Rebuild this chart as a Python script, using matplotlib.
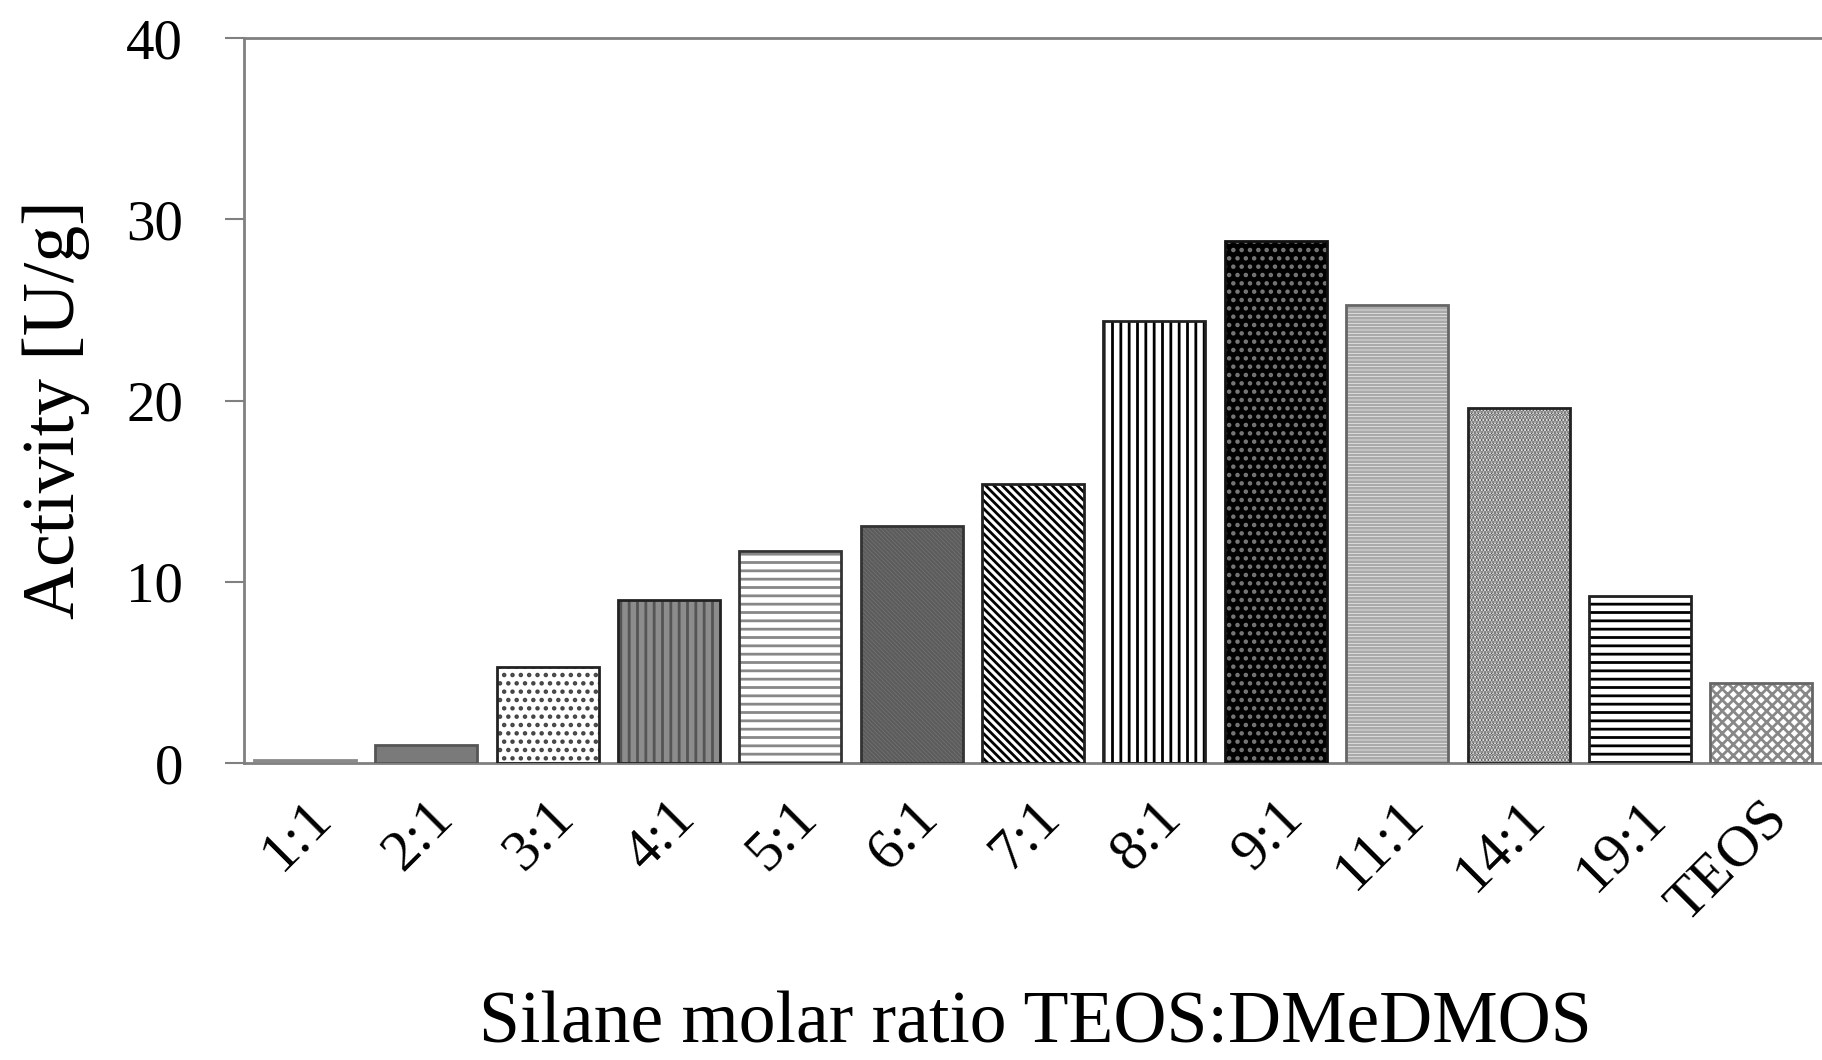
import matplotlib.pyplot as plt
import numpy as np

ratios = ['1:1', '2:1', '3:1', '4:1', '5:1', '6:1', '7:1', '8:1', '9:1',
          '11:1', '14:1', '19:1', 'TEOS']
activity = [0.2, 1.0, 5.3, 9.0, 11.7, 13.1, 15.4, 24.4, 28.8, 25.3, 19.6, 9.2, 4.4]

# fill colour, hatch, hatch colour for every bar
faces = ['#8a8a8a', '#7a7a7a', 'white', '#8c8c8c', 'white', '#b8b8b8', 'white',
         'white', 'black', 'white', 'white', 'white', 'white']
hatches = ['', '', '..', '||', '--', '\\\\\\\\\\\\\\\\', '\\\\\\\\', '||', '..',
           '-----', '.....', '--', 'xxx']
hcolors = ['#8a8a8a', '#7a7a7a', '#444444', '#555555', '#888888', '#5c5c5c', 'black',
           'black', '#777777', '#aaaaaa', '#555555', 'black', '#888888']
outlines = ['#8a8a8a', '#555555', '#222222', '#222222', '#333333', '#333333', '#222222',
            '#222222', '#111111', '#666666', '#222222', '#222222', '#666666']

plt.rcParams['font.family'] = ['Liberation Serif', 'DejaVu Serif']
plt.rcParams['hatch.linewidth'] = 2.0

fig = plt.figure(figsize=(18.22, 10.6), dpi=100)
ax = fig.add_axes([0.134, 0.280, 0.866, 0.684])

x = np.arange(len(ratios))
for i in range(len(ratios)):
    ax.bar(x[i], activity[i], width=0.84, color=faces[i], hatch=hatches[i],
           edgecolor=hcolors[i], linewidth=0, zorder=2)
    ax.bar(x[i], activity[i], width=0.84, fill=False, edgecolor=outlines[i],
           linewidth=2, zorder=3)

ax.set_xlim(-0.5, len(ratios) - 0.5)
ax.set_ylim(0, 40)
ax.set_yticks([0, 10, 20, 30, 40])
ax.tick_params(axis='y', labelsize=41, length=14, width=1.5, color='#808080', pad=30)
ax.set_xticks(x)
ax.set_xticklabels(ratios, rotation=45, ha='right', rotation_mode='anchor')
ax.tick_params(axis='x', labelsize=42, length=0, pad=20)

for s in ['left', 'bottom', 'top']:
    ax.spines[s].set_color('#808080')
    ax.spines[s].set_linewidth(2)
ax.spines['right'].set_visible(False)

fig.text(0.031, 0.614, 'Activity [U/g]', fontsize=53, rotation=90,
         ha='center', va='center')
fig.text(0.568, 0.033, 'Silane molar ratio TEOS:DMeDMOS', fontsize=53,
         ha='center', va='center')

fig.savefig('out.png', dpi=100)
